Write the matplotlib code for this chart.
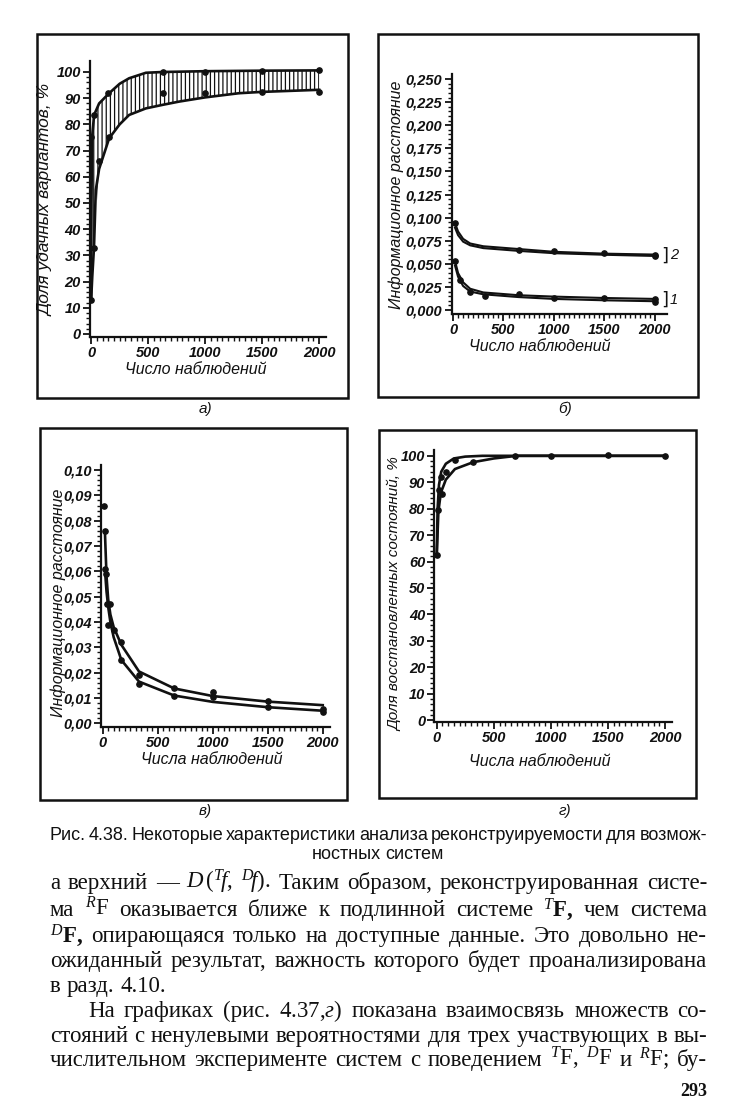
import matplotlib
matplotlib.use("Agg")
import matplotlib.pyplot as plt
import numpy as np
from matplotlib.patches import Rectangle
from matplotlib.ticker import FixedLocator
from matplotlib.font_manager import FontProperties

plt.rcParams['mathtext.fontset'] = 'custom'
plt.rcParams['mathtext.rm'] = 'Liberation Serif'
plt.rcParams['mathtext.it'] = 'Liberation Serif:italic'
plt.rcParams['mathtext.bf'] = 'Liberation Serif:bold'
plt.rcParams['hatch.linewidth'] = 0.9
plt.rcParams['hatch.color'] = '#111111'

INK = '#111111'

# ---------------- data ----------------
# panel a (share of successful variants, %)
a_up_x = [0, 3, 8, 26, 70, 158, 250, 333, 480, 632, 1000, 1500, 2000]
a_up_y = [13, 50, 75, 83.6, 88, 91.9, 95.5, 97.6, 99.7, 100, 100.3, 100.5, 100.6]
a_lo_x = [0, 10, 25, 41, 70, 158, 250, 333, 480, 632, 772, 1000, 1298, 1500, 2000]
a_lo_y = [13, 22, 33, 55, 63, 74.7, 80, 83.6, 86.1, 87.5, 88.7, 90.3, 91.9, 92.4, 93.2]
a_pts_x = [0, 0, 25, 29, 70, 151, 160, 632, 632, 1000, 1000, 1500, 1500, 2000, 2000]
a_pts_y = [13, 75, 33, 83.5, 66, 91.8, 75, 100, 92, 100, 92, 100.3, 92.4, 100.8, 92.4]
a_yticks = [0, 10, 20, 30, 40, 50, 60, 70, 80, 90, 100]
a_ylabels = ['0', '10', '20', '30', '40', '50', '60', '70', '80', '90', '100']

# panel b (information distance, two groups)
b_x = [20, 50, 100, 170, 300, 650, 1000, 1500, 2000]
b2_up = [0.094, 0.085, 0.077, 0.072, 0.069, 0.066, 0.063, 0.061, 0.060]
b2_lo = [0.089, 0.081, 0.074, 0.070, 0.067, 0.064, 0.0615, 0.0598, 0.0585]
b1_up = [0.053, 0.040, 0.030, 0.023, 0.019, 0.016, 0.0145, 0.013, 0.012]
b1_lo = [0.048, 0.036, 0.026, 0.020, 0.017, 0.014, 0.012, 0.0105, 0.0095]
b_pts_x = [20, 20, 70, 170, 320, 650, 650, 1000, 1000, 1500, 1500, 2000, 2000, 2000, 2000]
b_pts_y = [0.094, 0.053, 0.033, 0.019, 0.015, 0.065, 0.017, 0.0635, 0.013,
           0.0615, 0.013, 0.060, 0.058, 0.012, 0.009]
b_yticks = [0.0, 0.025, 0.05, 0.075, 0.1, 0.125, 0.15, 0.175, 0.2, 0.225, 0.25]
b_ylabels = ['0,000', '0,025', '0,050', '0,075', '0,100', '0,125', '0,150',
             '0,175', '0,200', '0,225', '0,250']
b_groups = ['1', '2']

# panel c (information distance)
c_x = [20, 35, 50, 70, 100, 170, 330, 650, 1000, 1500, 2000]
c_up = [0.076, 0.058, 0.049, 0.043, 0.038, 0.031, 0.0205, 0.0138, 0.0108, 0.0086, 0.0072]
c_lo = [0.061, 0.052, 0.046, 0.040, 0.034, 0.025, 0.0165, 0.011, 0.0085, 0.0064, 0.0050]
c_pts_x = [10, 20, 20, 30, 40, 50, 70, 100, 170, 170, 330, 330, 650, 650,
           1000, 1000, 1500, 1500, 2000, 2000]
c_pts_y = [0.086, 0.076, 0.061, 0.059, 0.047, 0.039, 0.047, 0.037, 0.032, 0.025,
           0.019, 0.0155, 0.0138, 0.011, 0.0125, 0.0105, 0.0088, 0.0065, 0.0055, 0.0045]
c_yticks = [0.0, 0.01, 0.02, 0.03, 0.04, 0.05, 0.06, 0.07, 0.08, 0.09, 0.10]
c_ylabels = ['0,00', '0,01', '0,02', '0,03', '0,04', '0,05', '0,06', '0,07',
             '0,08', '0,09', '0,10']

# panel d (share of restored states, %)
d_up_x = [0, 8, 20, 40, 80, 150, 250, 400, 700, 1000, 1500, 2000]
d_up_y = [62, 80, 89, 94, 97, 99, 99.7, 100, 100, 100, 100, 100]
d_lo_x = [0, 15, 30, 45, 80, 160, 320, 500, 700, 1000, 1500, 2000]
d_lo_y = [62, 79, 84, 87, 91, 95, 97.6, 99, 100, 100, 100, 100]
d_pts_x = [0, 15, 20, 35, 44, 82, 160, 321, 686, 1001, 1497, 2000]
d_pts_y = [62.4, 79.4, 87, 92, 85.6, 94, 98.3, 97.5, 100, 100, 100.2, 100]

x_ticks = [0, 500, 1000, 1500, 2000]
x_labels = ['0', '500', '1000', '1500', '2000']

# ---------------- figure ----------------
W, H = 738, 1107
fig = plt.figure(figsize=(W / 100, H / 100), dpi=100)
fig.patch.set_facecolor('white')


def add_ax(l, t, r, b):
    return fig.add_axes([l / W, 1 - b / H, (r - l) / W, (b - t) / H])


def frame(l, t, r, b):
    fig.add_artist(Rectangle((l / W, 1 - b / H), (r - l) / W, (b - t) / H,
                             transform=fig.transFigure, fill=False,
                             lw=1.8, ec=INK))


def ftext(x, y, s, **kw):
    return fig.text(x / W, 1 - y / H, s, **kw)


tick_fp = FontProperties(family=['Liberation Sans', 'DejaVu Sans'], style='italic',
                         weight='bold', size=10.5)
lab_family = ['Liberation Sans', 'DejaVu Sans']


def style(ax, xlim, ylim, yt, yl, yminor, xminor):
    ax.set_xlim(*xlim)
    ax.set_ylim(*ylim)
    ax.patch.set_alpha(0)
    for s in ['top', 'right']:
        ax.spines[s].set_visible(False)
    for s in ['left', 'bottom']:
        ax.spines[s].set_linewidth(1.6)
        ax.spines[s].set_color(INK)
    ax.set_xticks(x_ticks)
    ax.set_xticklabels(x_labels)
    ax.set_yticks(yt)
    ax.set_yticklabels(yl)
    ax.xaxis.set_minor_locator(FixedLocator(xminor))
    ax.yaxis.set_minor_locator(FixedLocator(yminor))
    ax.tick_params(which='major', direction='out', length=5, width=1.3, pad=1.5,
                   color=INK, labelcolor=INK)
    ax.tick_params(which='minor', direction='out', length=3, width=1.0, color=INK)
    for lab in ax.get_xticklabels() + ax.get_yticklabels():
        lab.set_fontproperties(tick_fp)


# ---- panel a ----
frame(37, 34, 348, 398)
axa = add_ax(90, 61.5, 326, 336.6)
style(axa, (-10, 2060), (-1, 104), a_yticks, a_ylabels,
      np.arange(0, 101, 2), np.arange(0, 2001, 50))
axa.fill_between(a_up_x, a_up_y, np.interp(a_up_x, a_lo_x, a_lo_y),
                 facecolor='none', edgecolor=INK, hatch='||||', linewidth=0)
axa.plot(a_up_x, a_up_y, color=INK, lw=1.9)
axa.plot(a_lo_x, a_lo_y, color=INK, lw=1.9)
axa.plot(a_pts_x, a_pts_y, 'o', color=INK, ms=3.8)
ftext(46, 200, 'Доля удачных вариантов, %', rotation=90, ha='center', va='center',
      family=lab_family, style='italic', size=12.5, color=INK)
ftext(196, 370, 'Число наблюдений', ha='center', va='center',
      family=lab_family, style='italic', size=11.5, color=INK)
ftext(205, 409, 'а)', ha='center', va='center', family=lab_family,
      style='italic', size=11, color=INK)

# ---- panel b ----
frame(378, 34, 698, 397)
axb = add_ax(451.5, 73.5, 667, 313.7)
style(axb, (-15, 2120), (-0.004, 0.256), b_yticks, b_ylabels,
      np.arange(0, 0.2501, 0.005), np.arange(0, 2001, 50))
for ys in (b2_up, b2_lo, b1_up, b1_lo):
    axb.plot(b_x, ys, color=INK, lw=1.5)
axb.plot(b_pts_x, b_pts_y, 'o', color=INK, ms=3.8)
for g, up, lo in ((b_groups[0], b1_up, b1_lo), (b_groups[1], b2_up, b2_lo)):
    yc = (up[-1] + lo[-1]) / 2
    axb.text(2060, yc, ']', ha='left', va='center', size=13, color=INK,
             family=['DejaVu Sans'])
    axb.text(2150, yc, g, ha='left', va='center', size=10.5, color=INK,
             family=lab_family, style='italic')
ftext(396, 195, 'Информационное расстояние', rotation=90, ha='center', va='center',
      family=lab_family, style='italic', size=11.5, color=INK)
ftext(540, 346, 'Число наблюдений', ha='center', va='center',
      family=lab_family, style='italic', size=11.5, color=INK)
ftext(565, 409, 'б)', ha='center', va='center', family=lab_family,
      style='italic', size=11, color=INK)

# ---- panel c ----
frame(40, 428, 347, 800)
axc = add_ax(100.7, 465, 330, 726.7)
style(axc, (-18, 2066), (-0.0013, 0.102), c_yticks, c_ylabels,
      np.arange(0, 0.1001, 0.002), np.arange(0, 2001, 50))
axc.plot(c_x, c_up, color=INK, lw=1.9)
axc.plot(c_x, c_lo, color=INK, lw=1.9)
axc.plot(c_pts_x, c_pts_y, 'o', color=INK, ms=3.8)
ftext(58, 603, 'Информационное расстояние', rotation=90, ha='center', va='center',
      family=lab_family, style='italic', size=11.5, color=INK)
ftext(212, 760, 'Числа наблюдений', ha='center', va='center',
      family=lab_family, style='italic', size=11.5, color=INK)
ftext(205, 811, 'в)', ha='center', va='center', family=lab_family,
      style='italic', size=11, color=INK)

# ---- panel d ----
frame(379, 430, 696, 798)
axd = add_ax(434.3, 450, 671.7, 721.7)
style(axd, (-21, 2058), (-0.6, 102.2), a_yticks, a_ylabels,
      np.arange(0, 101, 2), np.arange(0, 2001, 50))
axd.plot(d_up_x, d_up_y, color=INK, lw=1.9)
axd.plot(d_lo_x, d_lo_y, color=INK, lw=1.9)
axd.plot(d_pts_x, d_pts_y, 'o', color=INK, ms=3.8)
ftext(395, 594, 'Доля восстановленных состояний, %', rotation=90, ha='center',
      va='center', family=lab_family, style='italic', size=11, color=INK)
ftext(540, 762, 'Числа наблюдений', ha='center', va='center',
      family=lab_family, style='italic', size=11.5, color=INK)
ftext(565, 811, 'г)', ha='center', va='center', family=lab_family,
      style='italic', size=11, color=INK)

# ---------------- text below ----------------
renderer = fig.canvas.get_renderer()


def line(tokens, y, x0, x1=None, size=15, family=('Liberation Serif', 'DejaVu Serif'),
         mode='justify', **common):
    def build(sz):
        objs = []
        for tok in tokens:
            if isinstance(tok, tuple):
                s, extra = tok
            else:
                s, extra = tok, {}
            kw = dict(common)
            kw.update(extra)
            objs.append(ftext(0, y, s, size=sz, family=list(family), va='baseline',
                              ha='left', color=INK, **kw))
        return objs

    sz = size
    while True:
        objs = build(sz)
        widths = [o.get_window_extent(renderer).width for o in objs]
        space = sz * 100 / 72 * 0.26
        need = sum(widths) + 0.6 * space * (len(objs) - 1)
        if mode != 'justify' or x1 is None or need <= (x1 - x0) or sz < 6:
            break
        for o in objs:
            o.remove()
        sz -= 0.25
    if mode == 'justify' and len(objs) > 1:
        gap = (x1 - x0 - sum(widths)) / (len(objs) - 1)
    else:
        gap = space
    total = sum(widths) + gap * (len(objs) - 1)
    x = x0 - total / 2 if mode == 'center' else x0
    for o, w in zip(objs, widths):
        o.set_x(x / W)
        x += w + gap


cap_family = ('Liberation Sans Narrow', 'Liberation Sans', 'DejaVu Sans')
line("Рис. 4.38. Некоторые характеристики анализа реконструируемости для возмож-".split(),
     840, 50, 707, size=13.5, family=cap_family)
line(["ностных", "систем"], 859, 378, size=13, family=cap_family, mode='center')

B = {'fontweight': 'bold'}
body = [
    (["а", "верхний", "—", r"$D\,(^{T}\!f,$", r"$^{D}\!f).$", "Таким", "образом,",
      "реконструированная", "систе-"], 889, 50, 'justify'),
    (["ма", r"$^{R}$F", "оказывается", "ближе", "к", "подлинной", "системе",
      (r"$^{T}$F,", B), "чем", "система"], 916, 50, 'justify'),
    ([(r"$^{D}$F,", B), "опирающаяся", "только", "на", "доступные", "данные.", "Это",
      "довольно", "не-"], 942, 50, 'justify'),
    (["ожиданный", "результат,", "важность", "которого", "будет", "проанализирована"],
     967, 50, 'justify'),
    (["в", "разд.", "4.10."], 992, 50, 'left'),
    (["На", "графиках", "(рис.", r"4.37,$\mathit{г}$)", "показана", "взаимосвязь",
      "множеств", "со-"], 1017, 88, 'justify'),
    (["стояний", "с", "ненулевыми", "вероятностями", "для", "трех", "участвующих", "в",
      "вы-"], 1042, 50, 'justify'),
    (["числительном", "эксперименте", "систем", "с", "поведением", r"$^{T}$F,",
      r"$^{D}$F", "и", r"$^{R}$F;", "бу-"], 1066, 50, 'justify'),
]
for toks, y, x0, mode in body:
    line(toks, y, x0, 707, size=16.5, mode=mode)

ftext(707, 1096, '293', ha='right', va='baseline', family=['Liberation Serif'],
      weight='bold', size=13, color=INK)

fig.savefig('out.png', dpi=100, facecolor='white')
